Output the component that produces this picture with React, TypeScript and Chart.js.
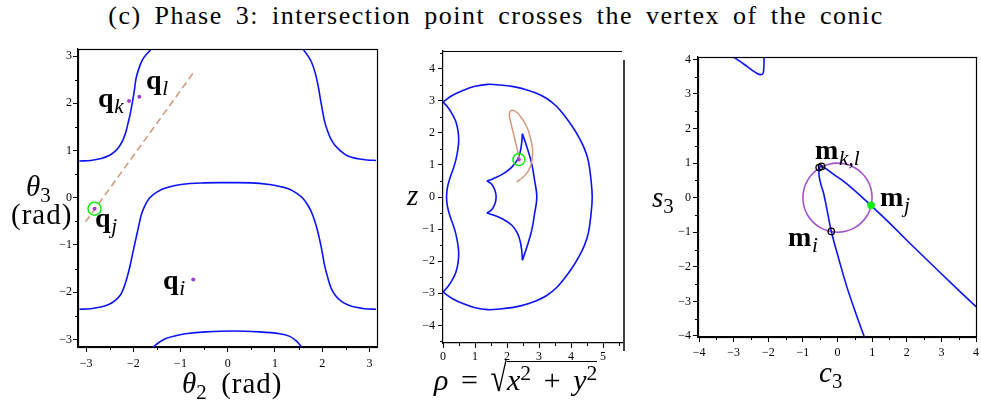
import React, { useEffect, useRef } from "react";
import { Chart, registerables } from "chart.js";
Chart.register(...registerables);

type P = [number, number];

// ---------- Panel 1: θ2–θ3 plane ----------
const p1UpperLeft: P[] = [[-3.14,0.78],[-2.9,0.79],[-2.68,0.83],[-2.5,0.9],[-2.4,0.97],[-2.3,1.08],[-2.22,1.22],[-2.16,1.38],[-2.12,1.54],[-2.07,1.75],[-2.03,1.96],[-1.98,2.25],[-1.94,2.53],[-1.88,2.74],[-1.8,2.93],[-1.7,3.06],[-1.59,3.18]];
const p1UpperRight: P[] = [[1.57,3.18],[1.68,3.03],[1.77,2.88],[1.85,2.65],[1.91,2.39],[1.96,2.1],[2.01,1.82],[2.06,1.58],[2.12,1.4],[2.18,1.25],[2.26,1.12],[2.38,1.0],[2.51,0.9],[2.65,0.85],[2.79,0.82],[2.95,0.8],[3.14,0.79]];
const p1Middle: P[] = [[-3.14,-2.36],[-2.9,-2.35],[-2.72,-2.32],[-2.52,-2.26],[-2.4,-2.19],[-2.28,-2.07],[-2.21,-1.93],[-2.14,-1.72],[-2.07,-1.45],[-2.0,-1.12],[-1.94,-0.85],[-1.88,-0.58],[-1.82,-0.33],[-1.74,-0.14],[-1.65,0.0],[-1.5,0.12],[-1.3,0.21],[-0.99,0.28],[-0.5,0.315],[0,0.32],[0.5,0.315],[0.88,0.28],[1.1,0.24],[1.31,0.18],[1.48,0.08],[1.59,-0.01],[1.71,-0.18],[1.8,-0.37],[1.88,-0.62],[1.94,-0.86],[2.0,-1.15],[2.05,-1.43],[2.12,-1.7],[2.19,-1.92],[2.28,-2.07],[2.4,-2.19],[2.55,-2.27],[2.72,-2.32],[2.9,-2.35],[3.14,-2.36]];
const p1Bottom: P[] = [[-1.6,-3.18],[-1.45,-3.06],[-1.31,-2.98],[-1.1,-2.92],[-0.9,-2.88],[-0.46,-2.84],[0.11,-2.82],[0.67,-2.84],[1.1,-2.88],[1.3,-2.93],[1.45,-3.03],[1.58,-3.18]];
const p1Dashed: P[] = [[-3.01,-0.51],[-0.74,2.63]];
const p1Dots: P[] = [[-2.09,2.05],[-1.87,2.14],[-2.82,-0.23],[-0.73,-1.73]];
const p1Highlight: P[] = [[-2.82,-0.23]];
const p1XTicks = [-3,-2,-1,0,1,2,3];
const p1YTicks = [-3,-2,-1,0,1,2,3];
const p1XMinor = [-2.5,-1.5,-0.5,0.5,1.5,2.5];
const p1YMinor = [-2.5,-1.5,-0.5,0.5,1.5,2.5];

// ---------- Panel 2: ρ–z plane ----------
const p2OuterArc: P[] = [[0,2.96],[0.3,3.17],[0.64,3.33],[1.0,3.45],[1.4,3.51],[1.78,3.49],[2.2,3.44],[2.51,3.37],[2.9,3.24],[3.24,3.07],[3.55,2.82],[3.82,2.5],[4.05,2.18],[4.25,1.85],[4.42,1.5],[4.54,1.12],[4.62,0.55],[4.66,0],[4.62,-0.55],[4.54,-1.12],[4.42,-1.5],[4.25,-1.85],[4.05,-2.18],[3.82,-2.5],[3.55,-2.82],[3.24,-3.07],[2.9,-3.24],[2.51,-3.37],[2.2,-3.44],[1.78,-3.49],[1.4,-3.51],[1.0,-3.45],[0.64,-3.33],[0.3,-3.17],[0,-2.96]];
const p2InnerLeft: P[] = [[0,2.96],[0.15,2.8],[0.28,2.6],[0.4,2.35],[0.47,2.05],[0.49,1.75],[0.46,1.45],[0.4,1.15],[0.32,0.88],[0.22,0.6],[0.14,0.3],[0.11,0],[0.14,-0.3],[0.22,-0.6],[0.32,-0.88],[0.4,-1.15],[0.46,-1.45],[0.49,-1.75],[0.47,-2.05],[0.4,-2.35],[0.28,-2.6],[0.15,-2.8],[0,-2.96]];
const p2BatUpper: P[] = [[1.37,0.5],[1.57,0.57],[1.89,0.73],[2.15,0.93],[2.32,1.16],[2.41,1.4],[2.46,1.71],[2.48,1.97]];
const p2BatRight: P[] = [[2.48,1.97],[2.62,1.56],[2.77,1.04],[2.86,0.52],[2.93,0],[2.86,-0.52],[2.77,-1.04],[2.62,-1.56],[2.48,-1.97]];
const p2BatLower: P[] = [[1.37,-0.5],[1.57,-0.56],[1.85,-0.68],[2.15,-0.88],[2.32,-1.12],[2.41,-1.38],[2.46,-1.68],[2.48,-1.97]];
const p2BatInner: P[] = [[1.37,0.5],[1.52,0.4],[1.62,0.22],[1.66,0],[1.62,-0.22],[1.52,-0.4],[1.37,-0.5]];
const p2Orange: P[] = [[2.39,1.16],[2.35,1.35],[2.3,1.56],[2.25,1.77],[2.2,1.98],[2.15,2.18],[2.1,2.4],[2.07,2.56],[2.1,2.67],[2.18,2.7],[2.3,2.64],[2.45,2.47],[2.56,2.29],[2.66,2.08],[2.72,1.87],[2.78,1.62],[2.8,1.42],[2.79,1.22],[2.74,0.98],[2.63,0.76],[2.48,0.6],[2.3,0.47]];
const p2Dot: P[] = [[2.37,1.17]];
const p2XTicks = [0,1,2,3,4,5];
const p2YTicks = [-4,-3,-2,-1,0,1,2,3,4];
const p2XMinor = [0.5,1.5,2.5,3.5,4.5,5.5];
const p2YMinor = [-4.5,-3.5,-2.5,-1.5,-0.5,0.5,1.5,2.5,3.5,4.5];

// ---------- Panel 3: c3–s3 plane ----------
const p3Circle: P[] = [[1,0],[0.966,0.259],[0.866,0.5],[0.707,0.707],[0.5,0.866],[0.259,0.966],[0,1],[-0.259,0.966],[-0.5,0.866],[-0.707,0.707],[-0.866,0.5],[-0.966,0.259],[-1,0],[-0.966,-0.259],[-0.866,-0.5],[-0.707,-0.707],[-0.5,-0.866],[-0.259,-0.966],[0,-1],[0.259,-0.966],[0.5,-0.866],[0.707,-0.707],[0.866,-0.5],[0.966,-0.259],[1,0]];
const p3ConicDown: P[] = [[-0.54,0.9],[-0.53,0.62],[-0.47,0.35],[-0.4,0.12],[-0.29,-0.42],[-0.18,-0.97],[0.03,-1.75],[0.27,-2.58],[0.52,-3.32],[0.8,-4.1]];
const p3ConicRight: P[] = [[-0.54,0.9],[-0.45,0.91],[-0.12,0.68],[0.27,0.4],[0.94,-0.2],[1.52,-0.75],[2.0,-1.23],[3.0,-2.2],[4.05,-3.2]];
const p3ConicTop: P[] = [[-3.0,4.07],[-2.7,3.86],[-2.5,3.71],[-2.33,3.6],[-2.22,3.56],[-2.15,3.6],[-2.13,3.75],[-2.12,4.07]];
const p3OpenMarks: P[] = [[-0.53,0.87],[-0.46,0.905],[-0.18,-0.975]];
const p3GreenMark: P[] = [[0.97,-0.22]];
const p3XTicks = [-4,-3,-2,-1,0,1,2,3,4];
const p3YTicks = [-4,-3,-2,-1,0,1,2,3,4];
const p3XMinor = [-3.5,-2.5,-1.5,-0.5,0.5,1.5,2.5,3.5];
const p3YMinor = [-3.5,-2.5,-1.5,-0.5,0.5,1.5,2.5,3.5];

const TITLE = "(c) Phase 3: intersection point crosses the vertex of the conic";

// ---------- styling ----------
const BLUE = "#0a14f5";
const ORANGE = "#d39a7c";
const PURPLE = "#9b3fcf";
const CIRCLE_PURPLE = "#a653cf";
const GREEN = "#11ee11";
const SERIF = "'Liberation Serif', 'Times New Roman', serif";
const PAD = 12;

const xy = (d: P[]) => d.map(([x, y]) => ({ x, y }));

const line = (d: P[], color: string, width = 1.6, dash: number[] = [], tension = 0.4) => ({
  data: xy(d), showLine: true, borderColor: color, borderWidth: width, borderDash: dash,
  pointRadius: 0, tension, fill: false,
});
const marks = (d: P[], radius: number, bg: string, border: string, bw: number) => ({
  data: xy(d), showLine: false, pointRadius: radius, pointBackgroundColor: bg,
  pointBorderColor: border, pointBorderWidth: bw, pointStyle: "circle",
});

const fmt = (v: number) => (v < 0 ? "\u2212" + Math.abs(v) : String(v));

const minorTickPlugin = {
  id: "minorTicks",
  afterDraw(chart: any, _args: any, opts: any) {
    const { ctx, chartArea: a } = chart;
    const xs = chart.scales.x, ys = chart.scales.y;
    ctx.save();
    ctx.strokeStyle = "#000";
    ctx.lineWidth = 1;
    for (const v of opts.x || []) {
      const px = Math.round(xs.getPixelForValue(v)) + 0.5;
      ctx.beginPath(); ctx.moveTo(px, a.bottom); ctx.lineTo(px, a.bottom + 3); ctx.stroke();
    }
    for (const v of opts.y || []) {
      const py = Math.round(ys.getPixelForValue(v)) + 0.5;
      ctx.beginPath(); ctx.moveTo(a.left - 3, py); ctx.lineTo(a.left, py); ctx.stroke();
    }
    ctx.restore();
  },
};

const framePlugin = {
  id: "frame",
  afterDraw(chart: any, _args: any, opts: any) {
    const { ctx, chartArea: a } = chart;
    ctx.save();
    ctx.strokeStyle = "#000";
    ctx.lineWidth = 1.2;
    if (opts.mode === "box") {
      ctx.strokeRect(a.left + 0.5, a.top + 0.5, a.right - a.left, a.bottom - a.top);
    } else {
      ctx.beginPath(); ctx.moveTo(a.left, a.top + 0.5); ctx.lineTo(a.right, a.top + 0.5); ctx.stroke();
      ctx.lineWidth = 1.5;
      ctx.beginPath(); ctx.moveTo(a.right + 2, a.top + 9); ctx.lineTo(a.right + 2, a.bottom + 8); ctx.stroke();
    }
    ctx.restore();
  },
};

interface Spec {
  plotLeft: number; plotTop: number; plotW: number; plotH: number;
  yw: number; xh: number;
  xMin: number; xMax: number; yMin: number; yMax: number;
  xTicks: number[]; yTicks: number[]; xMinor: number[]; yMinor: number[];
  frame: string; datasets: any[]; yPad: number; xPad: number;
}

function axis(min: number, max: number, ticks: number[], isX: boolean, size: number, pad: number) {
  return {
    type: "linear", min, max,
    afterBuildTicks: (s: any) => { s.ticks = ticks.map((v) => ({ value: v })); },
    afterFit: (s: any) => { if (isX) s.height = size; else s.width = size; },
    ticks: { callback: (v: any) => fmt(Number(v)), color: "#000", font: { family: SERIF, size: 12 }, padding: pad, maxRotation: 0, autoSkip: false },
    grid: { display: true, drawOnChartArea: false, drawTicks: true, tickLength: 5, color: "#000", lineWidth: 1 },
    border: { display: true, color: "#000", width: 1.2 },
  };
}

function Panel({ spec }: { spec: Spec }) {
  const ref = useRef<HTMLCanvasElement>(null);
  const w = spec.plotW + spec.yw + 2 * PAD;
  const h = spec.plotH + spec.xh + 2 * PAD;
  useEffect(() => {
    const chart = new Chart(ref.current as HTMLCanvasElement, {
      type: "scatter",
      data: { datasets: spec.datasets },
      options: {
        responsive: false, animation: false, events: [],
        layout: { padding: PAD },
        plugins: {
          legend: { display: false }, tooltip: { enabled: false },
          minorTicks: { x: spec.xMinor, y: spec.yMinor },
          frame: { mode: spec.frame },
        } as any,
        scales: {
          x: axis(spec.xMin, spec.xMax, spec.xTicks, true, spec.xh, spec.xPad) as any,
          y: axis(spec.yMin, spec.yMax, spec.yTicks, false, spec.yw, spec.yPad) as any,
        },
      },
      plugins: [minorTickPlugin, framePlugin],
    } as any);
    return () => chart.destroy();
  }, []);
  return (
    <canvas ref={ref} width={w} height={h}
      style={{ position: "absolute", left: spec.plotLeft - PAD - spec.yw, top: spec.plotTop - PAD, width: w, height: h }} />
  );
}

const spec1: Spec = {
  plotLeft: 78, plotTop: 49, plotW: 299, plotH: 298, yw: 30, xh: 26,
  xMin: -3.17, xMax: 3.16, yMin: -3.16, yMax: 3.15,
  xTicks: p1XTicks, yTicks: p1YTicks, xMinor: p1XMinor, yMinor: p1YMinor, frame: "box", xPad: 5, yPad: 1,
  datasets: [
    marks(p1Highlight, 6.5, "rgba(0,0,0,0)", GREEN, 1.5),
    marks(p1Dots, 2, PURPLE, PURPLE, 0),
    line(p1Dashed, ORANGE, 1.6, [7, 4], 0),
    line(p1UpperLeft, BLUE), line(p1UpperRight, BLUE), line(p1Middle, BLUE), line(p1Bottom, BLUE),
  ],
};
const spec2: Spec = {
  plotLeft: 443, plotTop: 51, plotW: 179, plotH: 292, yw: 30, xh: 26,
  xMin: 0, xMax: 5.59, yMin: -4.55, yMax: 4.55,
  xTicks: p2XTicks, yTicks: p2YTicks, xMinor: p2XMinor, yMinor: p2YMinor, frame: "open", xPad: 2, yPad: 3,
  datasets: [
    marks(p2Dot, 6, "rgba(0,0,0,0)", GREEN, 1.5),
    marks(p2Dot, 2, PURPLE, PURPLE, 0),
    line(p2Orange, ORANGE, 1.5),
    line(p2OuterArc, BLUE), line(p2InnerLeft, BLUE),
    line(p2BatUpper, BLUE), line(p2BatRight, BLUE), line(p2BatLower, BLUE), line(p2BatInner, BLUE),
  ],
};
const spec3: Spec = {
  plotLeft: 698, plotTop: 57, plotW: 278, plotH: 280, yw: 30, xh: 26,
  xMin: -4.03, xMax: 4.0, yMin: -4.03, yMax: 4.07,
  xTicks: p3XTicks, yTicks: p3YTicks, xMinor: p3XMinor, yMinor: p3YMinor, frame: "box", xPad: 4, yPad: 2,
  datasets: [
    marks(p3GreenMark, 3.5, GREEN, GREEN, 1),
    marks(p3OpenMarks, 3.2, "rgba(0,0,0,0)", "#000", 1.3),
    line(p3ConicDown, BLUE), line(p3ConicRight, BLUE), line(p3ConicTop, BLUE),
    line(p3Circle, CIRCLE_PURPLE, 1.6),
  ],
};

function Lbl({ left, top, size = 29, children }: { left: number; top: number; size?: number; children: any }) {
  return (
    <div style={{ position: "absolute", left, top, fontFamily: SERIF, fontSize: size, lineHeight: 1, whiteSpace: "nowrap", color: "#000" }}>
      {children}
    </div>
  );
}
const Sub = ({ children }: { children: any }) => (
  <span style={{ fontSize: "0.76em", verticalAlign: "-0.28em", fontStyle: "italic", fontWeight: "normal", marginLeft: "0.03em" }}>{children}</span>
);
const SubN = ({ children }: { children: any }) => (
  <span style={{ fontSize: "0.72em", verticalAlign: "-0.28em" }}>{children}</span>
);
const Sup = ({ children }: { children: any }) => (
  <span style={{ fontSize: "0.72em", verticalAlign: "0.45em" }}>{children}</span>
);
const Op = ({ children }: { children: any }) => (
  <span style={{ margin: "0 0.42em" }}>{children}</span>
);
const I = ({ children }: { children: any }) => <i>{children}</i>;
const B = ({ children }: { children: any }) => <b>{children}</b>;

export default function App() {
  return (
    <div style={{ position: "absolute", left: 0, top: 0, width: 981, height: 406, overflow: "hidden", background: "#fff" }}>
      <div style={{ position: "absolute", left: 46, top: 3, width: 900, textAlign: "center", fontFamily: SERIF, fontSize: 26, lineHeight: 1, whiteSpace: "nowrap", letterSpacing: "1.5px", wordSpacing: "5px" }}>
        {TITLE}
      </div>
      <Panel spec={spec1} />
      <Panel spec={spec2} />
      <Panel spec={spec3} />

      {/* panel 1 labels */}
      <Lbl left={26} top={172}><I>θ</I><SubN>3</SubN></Lbl>
      <Lbl left={11} top={200}><span style={{ letterSpacing: "1px" }}>(rad)</span></Lbl>
      <Lbl left={182} top={369}><I>θ</I><SubN>2</SubN><span style={{ marginLeft: "0.5em", letterSpacing: "1px" }}>(rad)</span></Lbl>
      <Lbl left={98} top={84} size={28}><B>q</B><Sub>k</Sub></Lbl>
      <Lbl left={146} top={66} size={28}><B>q</B><Sub>l</Sub></Lbl>
      <Lbl left={95} top={204} size={28}><B>q</B><Sub>j</Sub></Lbl>
      <Lbl left={163} top={266} size={28}><B>q</B><Sub>i</Sub></Lbl>

      {/* panel 2 labels */}
      <Lbl left={407} top={181}><I>z</I></Lbl>
      <Lbl left={434} top={363} size={30}>
        <I>ρ</I><Op>=</Op><span style={{ display: "inline-block", transform: "scaleY(1.35)", transformOrigin: "50% 70%" }}>√</span>
        <span style={{ borderTop: "1.3px solid #000", paddingTop: 1 }}><I>x</I><Sup>2</Sup><Op>+</Op><I>y</I><Sup>2</Sup></span>
      </Lbl>

      {/* panel 3 labels */}
      <Lbl left={652} top={183}><I>s</I><SubN>3</SubN></Lbl>
      <Lbl left={819} top={358}><I>c</I><SubN>3</SubN></Lbl>
      <Lbl left={815} top={136} size={28}><B>m</B><Sub>k,l</Sub></Lbl>
      <Lbl left={880} top={183} size={28}><B>m</B><Sub>j</Sub></Lbl>
      <Lbl left={788} top={223} size={28}><B>m</B><Sub>i</Sub></Lbl>
    </div>
  );
}
